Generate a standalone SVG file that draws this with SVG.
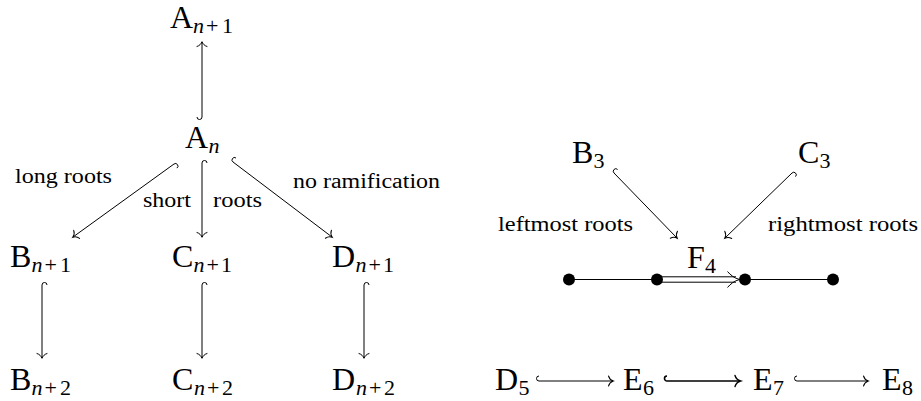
<svg xmlns="http://www.w3.org/2000/svg" width="921" height="401" viewBox="0 0 921 401">
<style>
.n{font-family:"Liberation Serif","DejaVu Serif",serif;font-size:32px;fill:#000}
.s{font-size:22px}
.i{font-style:italic}
.l{font-family:"Liberation Serif","DejaVu Serif",serif;font-size:20px;fill:#000}
.c{fill:none;stroke:#000;stroke-width:1}
.b{stroke-width:1.6}
.dot{fill:#000}
</style>
<defs>
<marker id="to" markerUnits="userSpaceOnUse" orient="auto" overflow="visible" markerWidth="20" markerHeight="20" refX="0" refY="0">
<path d="M -4.5 -5 C -3.8 -2.5 -1.6 -0.6 0.3 0 C -1.6 0.6 -3.8 2.5 -4.5 5" fill="none" stroke="#000" stroke-width="1" stroke-linecap="round"/>
</marker>
<marker id="tob" markerUnits="userSpaceOnUse" orient="auto" overflow="visible" markerWidth="20" markerHeight="20" refX="0" refY="0">
<path d="M -5 -5.5 C -4.2 -2.8 -1.8 -0.7 0.6 0 C -1.8 0.7 -4.2 2.8 -5 5.5" fill="none" stroke="#000" stroke-width="1.4" stroke-linecap="round"/>
</marker>
</defs>
<rect width="921" height="401" fill="#fff"/>

<g id="connectors">
<path class="c" marker-end="url(#to)" d="M197 117 A2.5 2.5 0 0 0 202 117 L202 42"/>
<path class="c" marker-end="url(#to)" d="M176.9 168.1 A2.5 2.5 0 0 0 174 164 L73 237"/>
<path class="c" marker-end="url(#to)" d="M207 163 A2.5 2.5 0 0 0 202 163 L202 237"/>
<path class="c" marker-end="url(#to)" d="M236 158 A2.5 2.5 0 0 0 233 162 L332 237"/>
<path class="c" marker-end="url(#to)" d="M47 285 A2.5 2.5 0 0 0 42 285 L42 358"/>
<path class="c" marker-end="url(#to)" d="M207 285 A2.5 2.5 0 0 0 202 285 L202 358"/>
<path class="c" marker-end="url(#to)" d="M369 285 A2.5 2.5 0 0 0 364 285 L364 358"/>
<path class="c" marker-end="url(#to)" d="M617.6 169.5 A2.5 2.5 0 0 0 614 173 L677 238"/>
<path class="c" marker-end="url(#to)" d="M795.5 176.6 A2.5 2.5 0 0 0 792 173 L725 238"/>
<path class="c" marker-end="url(#to)" d="M539 376 A2.5 2.5 0 0 0 539 381 L613 381"/>
<path class="c b" marker-end="url(#tob)" d="M667 376 A2.5 2.5 0 0 0 667 381 L740 381"/>
<path class="c" marker-end="url(#to)" d="M797 376 A2.5 2.5 0 0 0 797 381 L868 381"/>
<line class="c" x1="569" y1="279.5" x2="657" y2="279.5"/>
<line class="c" x1="745" y1="279.5" x2="833" y2="279.5"/>
<line class="c" x1="657" y1="276.8" x2="736" y2="276.8"/>
<line class="c" x1="657" y1="282.2" x2="736" y2="282.2"/>
<path class="c" d="M727.5 271.5 C730.5 275 734 278 739.5 279.5 C734 281 730.5 284 727.5 287.5"/>
</g>

<g id="labels">
<text class="l" x="15" y="183" textLength="97" lengthAdjust="spacingAndGlyphs">long roots</text>
<text class="l" x="143" y="207" textLength="48" lengthAdjust="spacingAndGlyphs">short</text>
<text class="l" x="213" y="207" textLength="49" lengthAdjust="spacingAndGlyphs">roots</text>
<text class="l" x="293" y="188" textLength="147" lengthAdjust="spacingAndGlyphs">no ramification</text>
<text class="l" x="498" y="231" textLength="135" lengthAdjust="spacingAndGlyphs">leftmost roots</text>
<text class="l" x="768" y="231" textLength="150" lengthAdjust="spacingAndGlyphs">rightmost roots</text>
</g>

<g id="An1"><text class="n" x="170" y="28">A<tspan class="s i" x="193" y="32.5">n</tspan><tspan class="s" x="206">+</tspan><tspan class="s" x="222">1</tspan></text></g>
<g id="An"><text class="n" x="185" y="148">A<tspan class="s i" x="208.5" y="152.5">n</tspan></text></g>
<g id="Bn1"><text class="n" x="10" y="267">B<tspan class="s i" x="31.5" y="271.5">n</tspan><tspan class="s" x="44.5">+</tspan><tspan class="s" x="60">1</tspan></text></g>
<g id="Cn1"><text class="n" x="172" y="267">C<tspan class="s i" x="193.5" y="271.5">n</tspan><tspan class="s" x="206.5">+</tspan><tspan class="s" x="221">1</tspan></text></g>
<g id="Dn1"><text class="n" x="332" y="267">D<tspan class="s i" x="355.5" y="271.5">n</tspan><tspan class="s" x="368.5">+</tspan><tspan class="s" x="383">1</tspan></text></g>
<g id="Bn2"><text class="n" x="10" y="390">B<tspan class="s i" x="31.5" y="394.5">n</tspan><tspan class="s" x="44.5">+</tspan><tspan class="s" x="60">2</tspan></text></g>
<g id="Cn2"><text class="n" x="172" y="390">C<tspan class="s i" x="194" y="394.5">n</tspan><tspan class="s" x="207">+</tspan><tspan class="s" x="222">2</tspan></text></g>
<g id="Dn2"><text class="n" x="332" y="390">D<tspan class="s i" x="356" y="394.5">n</tspan><tspan class="s" x="369">+</tspan><tspan class="s" x="384">2</tspan></text></g>

<g id="B3"><text class="n" x="572" y="163">B<tspan class="s" x="593.5" y="167.5">3</tspan></text></g>
<g id="C3"><text class="n" x="798" y="163">C<tspan class="s" x="819.5" y="167.5">3</tspan></text></g>
<g id="F4">
<text class="n" x="687" y="268">F<tspan class="s" x="705" y="272.5">4</tspan></text>
<circle class="dot" cx="569" cy="279.5" r="6"/>
<circle class="dot" cx="657" cy="279.5" r="6"/>
<circle class="dot" cx="745" cy="279.5" r="6"/>
<circle class="dot" cx="833" cy="279.5" r="6"/>
</g>
<g id="D5"><text class="n" x="495" y="390">D<tspan class="s" x="518.5" y="394.5">5</tspan></text></g>
<g id="E6"><text class="n" x="623" y="390">E<tspan class="s" x="643" y="394.5">6</tspan></text></g>
<g id="E7"><text class="n" x="753" y="390">E<tspan class="s" x="773" y="394.5">7</tspan></text></g>
<g id="E8"><text class="n" x="882" y="390">E<tspan class="s" x="902" y="394.5">8</tspan></text></g>
</svg>
